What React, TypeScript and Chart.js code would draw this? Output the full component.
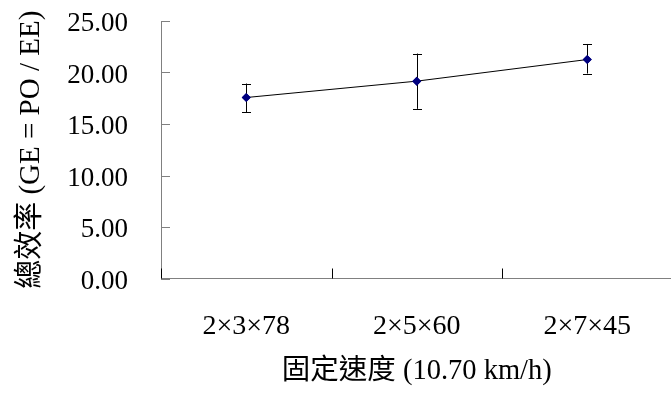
import React, { useEffect, useRef } from "react";
import { Chart, registerables } from "chart.js";

Chart.register(...registerables);

const categories = ["2×3×78", "2×5×60", "2×7×45"];
const meanValues = [17.57, 19.16, 21.26];
const errorUpper = [18.93, 21.84, 22.77];
const errorLower = [16.15, 16.47, 19.9];
const yTickValues = [0, 5, 10, 15, 20, 25];
const xTitle = "固定速度 (10.70 km/h)";
const yTitle = "總效率 (GE = PO / EE)";

const FONT = "'Liberation Serif', 'Times New Roman', 'Noto Sans CJK TC', serif";

const decorPlugin = {
  id: "decor",
  afterDatasetsDraw(chart: any) {
    const ctx = chart.ctx;
    const x = chart.scales.x;
    const y = chart.scales.y;
    ctx.save();
    ctx.strokeStyle = "#000000";
    ctx.lineWidth = 1;
    categories.forEach((_, i) => {
      const px = Math.round(x.getPixelForValue(i)) + 0.5;
      const top = y.getPixelForValue(errorUpper[i]);
      const bot = y.getPixelForValue(errorLower[i]);
      ctx.beginPath();
      ctx.moveTo(px, top);
      ctx.lineTo(px, bot);
      ctx.moveTo(px - 4.5, Math.round(top) + 0.5);
      ctx.lineTo(px + 4.5, Math.round(top) + 0.5);
      ctx.moveTo(px - 4.5, Math.round(bot) + 0.5);
      ctx.lineTo(px + 4.5, Math.round(bot) + 0.5);
      ctx.stroke();
    });
    const meta = chart.getDatasetMeta(0);
    meta.data.forEach((pt: any) => pt.draw(ctx, chart.chartArea));
    ctx.strokeStyle = "#808080";
    ctx.lineWidth = 1;
    const left = x.left;
    yTickValues.forEach((v) => {
      const py = Math.round(y.getPixelForValue(v)) + 0.5;
      ctx.beginPath();
      ctx.moveTo(left, py);
      ctx.lineTo(left + 9, py);
      ctx.stroke();
    });
    ctx.strokeStyle = "#000000";
    const bottom = y.bottom;
    for (let i = 0; i <= categories.length; i++) {
      const px = Math.round(x.getPixelForValue(i - 0.5)) + 0.5;
      ctx.beginPath();
      ctx.moveTo(px, bottom);
      ctx.lineTo(px, bottom - 10);
      ctx.stroke();
    }
    ctx.restore();
  },
};

export default function App() {
  const canvasRef = useRef<HTMLCanvasElement | null>(null);

  useEffect(() => {
    if (!canvasRef.current) return;
    const chart = new Chart(canvasRef.current, {
      type: "line",
      data: {
        labels: categories,
        datasets: [
          {
            data: meanValues,
            borderColor: "#000000",
            borderWidth: 1,
            pointStyle: "rectRot",
            pointRadius: 4.5,
            pointBackgroundColor: "#000080",
            pointBorderColor: "#000080",
            pointBorderWidth: 0,
            tension: 0,
            fill: false,
          },
        ],
      },
      options: {
        animation: false,
        responsive: true,
        maintainAspectRatio: false,
        events: [],
        layout: { padding: { top: 21, left: 0, right: 0, bottom: 0 } },
        plugins: {
          legend: { display: false },
          tooltip: { enabled: false },
        },
        scales: {
          x: {
            type: "category",
            offset: true,
            grid: { display: false, drawTicks: false },
            border: { display: true, color: "#808080", width: 1 },
            ticks: {
              color: "#000000",
              padding: 31,
              font: { family: FONT, size: 28 },
              maxRotation: 0,
              autoSkip: false,
            },
            title: {
              display: true,
              text: xTitle,
              color: "#000000",
              font: { family: FONT, size: 28.5 },
              padding: { top: 0, bottom: 8 },
            },
            afterFit: (scale: any) => {
              scale.height = 118.5;
              scale.paddingTop = 0;
              scale.paddingBottom = 0;
              scale.paddingLeft = 0;
              scale.paddingRight = 0;
            },
          },
          y: {
            min: 0,
            max: 25,
            grid: { display: false, drawTicks: false },
            border: { display: true, color: "#808080", width: 1 },
            ticks: {
              stepSize: 5,
              color: "#000000",
              padding: 33,
              labelOffset: 3,
              font: { family: FONT, size: 27 },
              callback: (v: any) => Number(v).toFixed(2),
            },
            title: {
              display: true,
              text: yTitle,
              color: "#000000",
              font: { family: FONT, size: 29 },
              padding: { top: 13.5, bottom: 0 },
            },
            afterFit: (scale: any) => {
              scale.width = 161;
              scale.paddingTop = 0;
              scale.paddingBottom = 0;
            },
          },
        },
      },
      plugins: [decorPlugin],
    });
    return () => chart.destroy();
  }, []);

  return (
    <div
      style={{
        position: "fixed",
        left: 0,
        top: 0,
        width: 677,
        height: 397,
        background: "#ffffff",
      }}
    >
      <canvas ref={canvasRef} />
    </div>
  );
}
